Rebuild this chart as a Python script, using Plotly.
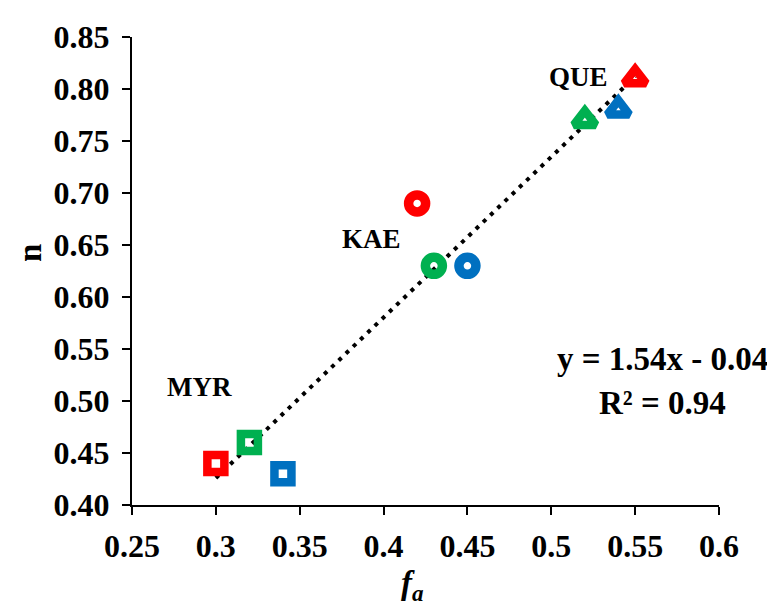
import numpy as np
import plotly.graph_objects as go

# Data
groups = ["MYR", "KAE", "QUE"]
fa_red = [0.30, 0.42, 0.55]
n_red = [0.44, 0.69, 0.81]
fa_green = [0.32, 0.43, 0.52]
n_green = [0.46, 0.63, 0.77]
fa_blue = [0.34, 0.45, 0.54]
n_blue = [0.43, 0.63, 0.78]
x_ticks = [0.25, 0.30, 0.35, 0.40, 0.45, 0.50, 0.55, 0.60]
x_tick_labels = ["0.25", "0.3", "0.35", "0.4", "0.45", "0.5", "0.55", "0.6"]
y_ticks = [0.40, 0.45, 0.50, 0.55, 0.60, 0.65, 0.70, 0.75, 0.80, 0.85]
label_pos_x = [0.2905, 0.393, 0.5165]
label_pos_y = [0.513, 0.656, 0.812]
equation_text = "y = 1.54x - 0.04"
r2_text = "R² = 0.94"

RED, GREEN, BLUE = "#FF0000", "#00B050", "#0070C0"
symbols = ["square-open", "circle-open", "triangle-up-open"]
sizes = [17, 17, 19]
lws = [8.5, 9.5, 8.5]
FONT = "Liberation Serif"

fig = go.Figure()

# trendline from least squares fit
all_x = np.array(fa_red + fa_green + fa_blue)
all_y = np.array(n_red + n_green + n_blue)
slope, intercept = np.polyfit(all_x, all_y, 1)
tx = np.array([all_x.min(), all_x.max()])
fig.add_trace(go.Scatter(x=tx, y=slope * tx + intercept, mode="lines",
                         line=dict(color="black", width=4, dash="4px,6px"),
                         showlegend=False, hoverinfo="skip"))

for xs, ys, col in [(fa_red, n_red, RED), (fa_green, n_green, GREEN), (fa_blue, n_blue, BLUE)]:
    for i in range(3):
        fig.add_trace(go.Scatter(
            x=[xs[i]], y=[ys[i]], mode="markers", showlegend=False,
            marker=dict(symbol=symbols[i], size=sizes[i], color=col, opacity=1,
                        line=dict(color=col, width=lws[i]))))

for g, lx, ly in zip(groups, label_pos_x, label_pos_y):
    fig.add_annotation(x=lx, y=ly, text=f"<b>{g}</b>", showarrow=False,
                       xanchor="center", yanchor="middle",
                       font=dict(family=FONT, size=27, color="black"))

fig.add_annotation(x=0.5665, y=0.540, text=f"<b>{equation_text}</b>", showarrow=False,
                   xanchor="center", yanchor="middle",
                   font=dict(family=FONT, size=33, color="black"))
fig.add_annotation(x=0.5665, y=0.498, text=f"<b>{r2_text}</b>", showarrow=False,
                   xanchor="center", yanchor="middle",
                   font=dict(family=FONT, size=33, color="black"))

# axis titles
fig.add_annotation(xref="paper", yref="paper", x=-0.1738, y=0.5385, textangle=-90,
                   xanchor="center", yanchor="middle",
                   text="<b>n</b>", showarrow=False,
                   font=dict(family=FONT, size=33, color="black"))
fig.add_annotation(xref="paper", yref="paper", x=0.4787, y=-0.172,
                   xanchor="center", yanchor="middle",
                   text="<b><i>f<sub>a</sub></i></b>", showarrow=False,
                   font=dict(family=FONT, size=33, color="black"))

axis_common = dict(showgrid=False, zeroline=False, showline=True, linecolor="black",
                   linewidth=2, ticks="outside", ticklen=8, tickwidth=2, tickcolor="black",
                   tickfont=dict(family=FONT, size=32, color="black"))

fig.update_xaxes(range=[0.25, 0.60], tickvals=x_ticks,
                 ticktext=[f"<b>{t}</b>" for t in x_tick_labels],
                 ticklabelstandoff=4, **axis_common)
fig.update_yaxes(range=[0.40, 0.85], tickvals=y_ticks,
                 ticktext=[f"<b>{t:.2f}</b>" for t in y_ticks],
                 ticklabelstandoff=6, **axis_common)

fig.update_layout(width=775, height=606, plot_bgcolor="white", paper_bgcolor="white",
                  margin=dict(l=124, r=64, t=29, b=109))

fig.write_html("out.html")
